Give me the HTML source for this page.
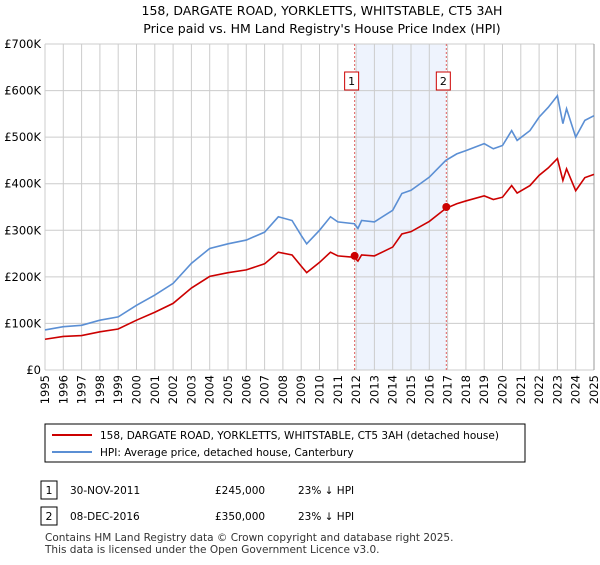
<!DOCTYPE html>
<html><head><meta charset="utf-8"><style>
body{margin:0;background:#fff;font-family:"Liberation Sans","DejaVu Sans",sans-serif;}
svg text{font-family:"DejaVu Sans","Liberation Sans",sans-serif;}
</style></head><body>
<svg id="c" width="600" height="560" xmlns="http://www.w3.org/2000/svg">
<text x="322" y="15" text-anchor="middle" font-size="12.5" fill="#000">158, DARGATE ROAD, YORKLETTS, WHITSTABLE, CT5 3AH</text>
<text x="322" y="33" text-anchor="middle" font-size="12.5" fill="#000">Price paid vs. HM Land Registry's House Price Index (HPI)</text>
<g id="grid"></g><g id="series"></g><g id="axes"></g>
<rect x="45" y="424" width="480" height="38" fill="#fff" stroke="#000" stroke-width="1"/>
<line x1="52" y1="435" x2="92" y2="435" stroke="#cc0000" stroke-width="2"/>
<text x="100" y="439" font-size="10.5">158, DARGATE ROAD, YORKLETTS, WHITSTABLE, CT5 3AH (detached house)</text>
<line x1="52" y1="452" x2="92" y2="452" stroke="#5b8fd4" stroke-width="2"/>
<text x="100" y="456" font-size="10.5">HPI: Average price, detached house, Canterbury</text>
<g>
<rect x="41" y="481" width="16" height="18" fill="#fff" stroke="#000"/><text x="49" y="494" font-size="11" text-anchor="middle">1</text>
<text x="70" y="494" font-size="10.5">30-NOV-2011</text><text x="215" y="494" font-size="10.5">£245,000</text><text x="298" y="494" font-size="10.5">23% ↓ HPI</text></g>
<g>
<rect x="41" y="507" width="16" height="18" fill="#fff" stroke="#000"/><text x="49" y="520" font-size="11" text-anchor="middle">2</text>
<text x="70" y="520" font-size="10.5">08-DEC-2016</text><text x="215" y="520" font-size="10.5">£350,000</text><text x="298" y="520" font-size="10.5">23% ↓ HPI</text></g>
<text x="45" y="541" font-size="10.5" fill="#333">Contains HM Land Registry data © Crown copyright and database right 2025.</text>
<text x="45" y="553" font-size="10.5" fill="#333">This data is licensed under the Open Government Licence v3.0.</text>
</svg>
<script>
const years=[1995,1996,1997,1998,1999,2000,2001,2002,2003,2004,2005,2006,2007,2007.75,2008.5,2009,2009.3,2010,2010.6,2011,2011.9,2012.1,2012.3,2013,2014,2014.5,2015,2015.5,2016,2016.9,2017.5,2018,2019,2019.5,2020,2020.5,2020.8,2021.5,2022,2022.5,2023,2023.3,2023.5,2024,2024.5,2025];
const hpiValues=[86,93,96,107,114,139,161,186,229,261,271,279,296,329,321,289,271,300,329,318,314,304,321,318,343,379,386,400,414,450,464,471,486,475,482,514,493,514,543,564,589,529,561,500,536,546];
const priceValues=[66,72,74,82,88,107,124,143,176,201,209,215,228,253,247,223,209,231,253,245,242,234,247,245,264,292,297,308,319,347,357,363,374,366,371,396,380,396,418,434,454,407,432,385,413,420];
const saleYears=[2011.92,2016.93];
const salePrices=[245,350];
const saleLabels=["1","2"];
const yTicks=[0,100,200,300,400,500,600,700];
const yTickLabels=["£0","£100K","£200K","£300K","£400K","£500K","£600K","£700K"];
const xTicks=[1995,1996,1997,1998,1999,2000,2001,2002,2003,2004,2005,2006,2007,2008,2009,2010,2011,2012,2013,2014,2015,2016,2017,2018,2019,2020,2021,2022,2023,2024,2025];
const X0=45,X1=594,Y0=370,Y1=44;
const xs=v=>X0+(v-1995)/30*(X1-X0);
const ys=v=>Y0-v/700*(Y0-Y1);
const NS="http://www.w3.org/2000/svg";
function mk(t,a,p){const e=document.createElementNS(NS,t);for(const k in a)e.setAttribute(k,a[k]);p.appendChild(e);return e;}
const grid=document.getElementById('grid'),ser=document.getElementById('series'),ax=document.getElementById('axes');
const band=mk('rect',{x:xs(2012),y:Y1,width:xs(saleYears[1])-xs(2012),height:Y0-Y1,fill:'#eef3fd'},grid);


yTicks.forEach((t,i)=>{
 const l=mk('line',{x1:X0,x2:X1,y1:ys(t),y2:ys(t),stroke:'#cccccc'},grid);
 
 
 const tx=mk('text',{x:X0-4,y:ys(t)+4,'text-anchor':'end','font-size':'11.5'},ax);
 tx.textContent=yTickLabels[i];
 
 
});
xTicks.forEach(t=>{
 const l=mk('line',{x1:xs(t),x2:xs(t),y1:Y1,y2:Y0,stroke:'#cccccc'},grid);
 
 
 const x=xs(t)+4,y=375;
 const tx=mk('text',{x:x,y:y,'text-anchor':'end','font-size':'11.5',transform:'rotate(-90 '+x+' '+y+')'},ax);
 tx.textContent=t;
 
 
});
const rl=mk('line',{x1:X1,x2:X1,y1:Y1,y2:Y0,stroke:'#999'},grid);


saleYears.forEach((s,i)=>{
 const l=mk('line',{x1:xs(s),x2:xs(s),y1:Y1,y2:Y0,stroke:'#e06060','stroke-dasharray':'2,2'},grid);
 
 
 const r=mk('rect',{x:xs(s)-10,y:72,width:14,height:18,fill:'#fff',stroke:'#cc0000'},ax);
 
 
 const tx=mk('text',{x:xs(s)-3,y:85,'text-anchor':'middle','font-size':'11'},ax);
 tx.textContent=saleLabels[i];
 
 
});
const hp=mk('polyline',{points:years.map((y,i)=>xs(y)+','+ys(hpiValues[i])).join(' '),fill:'none',stroke:'#5b8fd4','stroke-width':1.6},ser);


const pp=mk('polyline',{points:years.map((y,i)=>xs(y)+','+ys(priceValues[i])).join(' '),fill:'none',stroke:'#cc0000','stroke-width':1.6},ser);


saleYears.forEach((s,i)=>{
 const c=mk('circle',{cx:xs(s),cy:ys(salePrices[i]),r:4,fill:'#cc0000'},ser);
 
 
});
</script>
</body></html>
